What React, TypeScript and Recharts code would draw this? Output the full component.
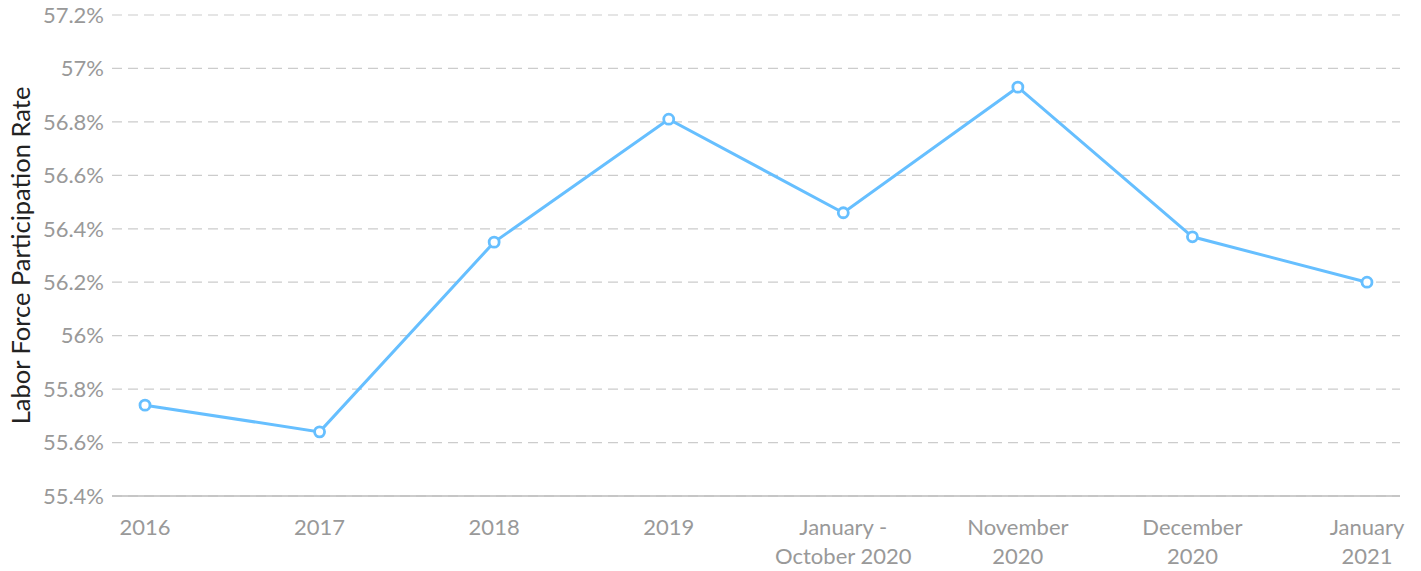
import {
  LineChart,
  Line,
  XAxis,
  YAxis,
  CartesianGrid,
  Label,
} from 'recharts';

const categories = [
  '2016',
  '2017',
  '2018',
  '2019',
  'January -\nOctober 2020',
  'November\n2020',
  'December\n2020',
  'January\n2021',
];
const rates = [55.74, 55.64, 56.35, 56.81, 56.46, 56.93, 56.37, 56.2];
const yTicks = [55.4, 55.6, 55.8, 56, 56.2, 56.4, 56.6, 56.8, 57, 57.2];

const data = categories.map((c, i) => ({ period: c, rate: rates[i] }));

const FONT = 'Lato, "Open Sans", sans-serif';
const TICK_COLOR = '#999999';

const XTick = (props: any) => {
  const { x, y, payload } = props;
  const lines = String(payload.value).split('\n');
  return (
    <text
      x={x}
      y={y}
      textAnchor="middle"
      fill={TICK_COLOR}
      fontSize={22}
      fontFamily={FONT}
    >
      {lines.map((line, i) => (
        <tspan key={i} x={x} y={y + 31 + i * 29}>
          {line}
        </tspan>
      ))}
    </text>
  );
};

export default function App() {
  const formatPercent = (v: number) => `${+v.toFixed(1)}%`;

  return (
    <div style={{ position: 'absolute', left: 0, top: 0, width: 1421, height: 571, background: '#fff' }}>
      <LineChart
        width={1421}
        height={571}
        data={data}
        margin={{ top: 15, right: 21, bottom: 0, left: 0 }}
      >
        <CartesianGrid
          vertical={false}
          stroke="#cccccc"
          strokeDasharray="10 6"
          strokeWidth={1.2}
        />
        <XAxis
          dataKey="period"
          height={75}
          interval={0}
          padding={{ left: 33, right: 33 }}
          tickLine={false}
          axisLine={{ stroke: '#bbbbbb', strokeWidth: 1.5 }}
          tick={<XTick />}
        />
        <YAxis
          width={112}
          domain={[55.4, 57.2]}
          ticks={yTicks}
          tickFormatter={formatPercent}
          tickLine={false}
          axisLine={false}
          tick={{ fill: TICK_COLOR, fontSize: 22, fontFamily: FONT }}
        >
          <Label
            value="Labor Force Participation Rate"
            angle={-90}
            position="insideLeft"
            offset={21}
            style={{ textAnchor: 'middle', fill: '#222', fontSize: 25.5, fontFamily: FONT }}
          />
        </YAxis>
        <Line
          type="linear"
          dataKey="rate"
          stroke="#66bfff"
          strokeWidth={3}
          dot={{ r: 5, fill: '#fff', stroke: '#66bfff', strokeWidth: 2.8 }}
          activeDot={false}
          isAnimationActive={false}
        />
      </LineChart>
    </div>
  );
}
